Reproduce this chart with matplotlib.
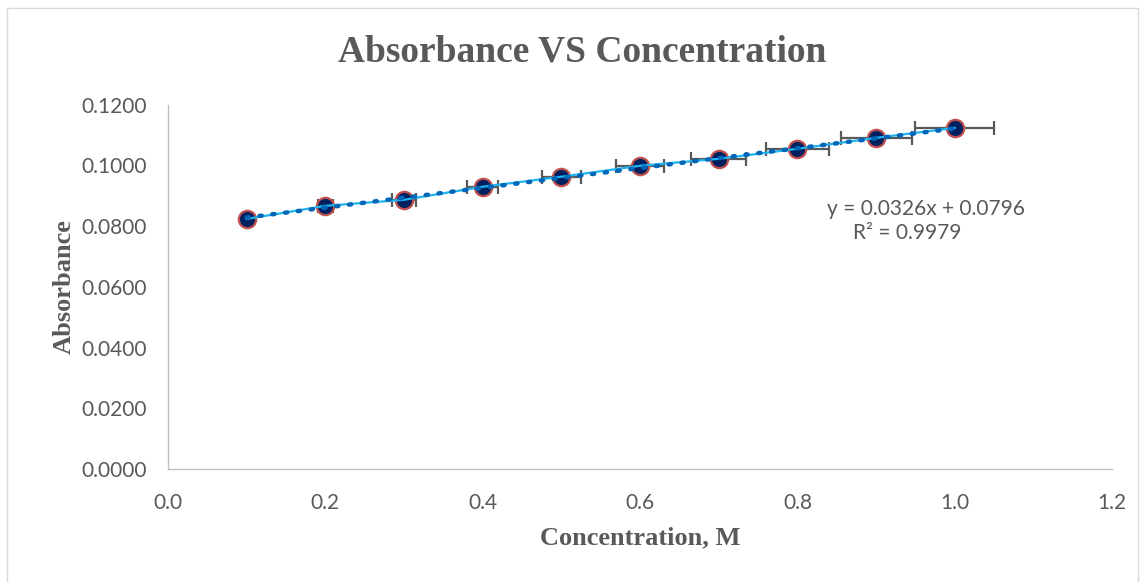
import numpy as np
import matplotlib.pyplot as plt
from matplotlib.patches import Rectangle

# Data
concentration = [0.1, 0.2, 0.3, 0.4, 0.5, 0.6, 0.7, 0.8, 0.9, 1.0]
absorbance = [0.0824, 0.0867, 0.0887, 0.0930, 0.0963, 0.0999, 0.1022, 0.1055, 0.1091, 0.1124]
x_err_pct = 0.05  # 5% horizontal error bars

slope = 0.0326
intercept = 0.0796
eq_text = "y = 0.0326x + 0.0796"
r2_text = "R² = 0.9979"

x_ticks = [0.0, 0.2, 0.4, 0.6, 0.8, 1.0, 1.2]
y_ticks = [0.0, 0.02, 0.04, 0.06, 0.08, 0.10, 0.12]

grey = '#595959'
x = np.array(concentration)
y = np.array(absorbance)

fig = plt.figure(figsize=(11.43, 5.82), dpi=100)
ax = fig.add_axes([0.147, 0.194, 0.826, 0.626])

# light border around the chart area
fig.patches.append(Rectangle((0.006, -0.01), 0.99, 0.996, transform=fig.transFigure,
                             fill=False, edgecolor='#d9d9d9', linewidth=1))

ax.errorbar(x, y, xerr=x * x_err_pct, fmt='none', ecolor=grey, elinewidth=1.6,
            capsize=5, capthick=1.6, zorder=2)
ax.plot(x, y, 'o', markersize=12.5, markerfacecolor='#002060',
        markeredgecolor='#c0504d', markeredgewidth=1.6, zorder=3)
ax.plot(x, y, color='#1fb4f0', linewidth=1.6, zorder=4)
xt = np.array([x.min(), x.max()])
ax.plot(xt, slope * xt + intercept, color='#0066b8', linewidth=3.2,
        linestyle=(0, (0.5, 2.4)), dash_capstyle='round', zorder=5)

ax.text(0.9635, 0.0858, eq_text, ha='center', va='center', fontsize=15,
        color=grey, family='Lato')
ax.text(0.939, 0.0776, r2_text, ha='center', va='center', fontsize=15,
        color=grey, family='Lato')

ax.set_xlim(0, 1.2)
ax.set_ylim(0, 0.12)
ax.set_xticks(x_ticks)
ax.set_yticks(y_ticks)
ax.set_xticklabels([f'{v:.1f}' for v in x_ticks])
ax.set_yticklabels([f'{v:.4f}' for v in y_ticks])
ax.tick_params(length=0, labelsize=15, labelcolor=grey)
ax.tick_params(axis='y', pad=15)
ax.tick_params(axis='x', pad=17)
for lbl in ax.get_xticklabels() + ax.get_yticklabels():
    lbl.set_family('Lato')

for s in ['top', 'right']:
    ax.spines[s].set_visible(False)
for s in ['left', 'bottom']:
    ax.spines[s].set_color('#bfbfbf')
    ax.spines[s].set_linewidth(1)

ax.set_xlabel('Concentration, M', fontsize=19, fontweight='bold', color=grey,
              family='Liberation Serif', labelpad=10)
ax.set_ylabel('Absorbance', fontsize=19, fontweight='bold', color=grey,
              family='Liberation Serif', labelpad=4)
fig.suptitle('Absorbance VS Concentration', x=0.509, y=0.94, fontsize=27,
             fontweight='bold', color=grey, family='Liberation Serif')

fig.savefig('out.png', dpi=100)
